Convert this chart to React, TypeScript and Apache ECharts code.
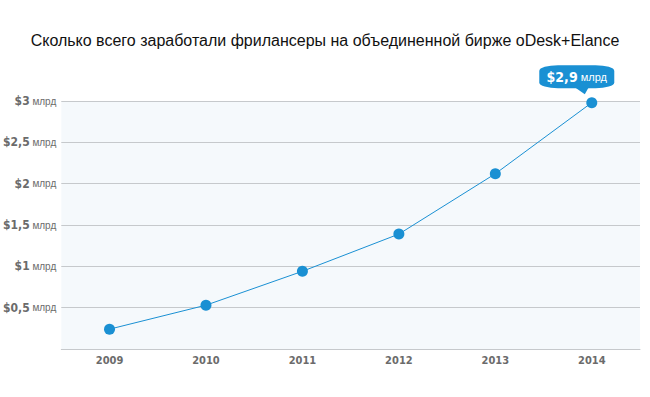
import React, { useEffect, useRef } from "react";
import * as echarts from "echarts";

const TITLE = "Сколько всего заработали фриланcеры на объединенной бирже oDesk+Elance";
const years = ["2009", "2010", "2011", "2012", "2013", "2014"];
const earnings = [0.24, 0.53, 0.94, 1.39, 2.12, 2.98];
const yTicks = [0, 0.5, 1, 1.5, 2, 2.5, 3];
const unit = "млрд";
const calloutValue = "$2,9";

const BLUE = "#1a90d3";
const NARROW = "'DejaVu Sans Condensed', 'Liberation Sans Narrow', sans-serif";
const REG = "'Liberation Sans', Arial, sans-serif";

export default function App() {
  const ref = useRef<HTMLDivElement>(null);
  useEffect(() => {
    if (!ref.current) return;
    const chart = echarts.init(ref.current, null, { renderer: "svg" });
    const lastIdx = years.length - 1;
    chart.setOption({
      animation: false,
      backgroundColor: "#ffffff",
      title: {
        text: TITLE,
        left: "center",
        top: 27,
        textStyle: {
          fontFamily: REG,
          fontSize: 16,
          fontWeight: "normal",
          color: "#111111",
        },
      },
      grid: {
        left: 60,
        right: 10,
        top: 101,
        bottom: 48,
        show: true,
        backgroundColor: "#f5f9fc",
        borderWidth: 0,
      },
      xAxis: {
        type: "category",
        data: years,
        axisTick: { show: false },
        axisLine: { show: true, lineStyle: { color: "#c6c9cc", width: 1 } },
        axisLabel: {
          margin: 6,
          color: "#6b6b6b",
          fontFamily: NARROW,
          fontWeight: "bold",
          fontSize: 11,
        },
      },
      yAxis: {
        type: "value",
        min: yTicks[0],
        max: yTicks[yTicks.length - 1],
        interval: 0.5,
        axisLine: { show: false },
        axisTick: { show: false },
        splitLine: { show: true, lineStyle: { color: "#c6c9cc", width: 1 } },
        axisLabel: {
          margin: 5,
          formatter: (v: number) =>
            v === 0 ? "" : `{a|$${String(v).replace(".", ",")}}{b| ${unit}}`,
          rich: {
            a: {
              color: "#6b6b6b",
              fontFamily: NARROW,
              fontWeight: "bold",
              fontSize: 12,
            },
            b: {
              color: "#6b6b6b",
              fontFamily: REG,
              fontSize: 10,
            },
          },
        },
      },
      series: [
        {
          type: "line",
          data: earnings,
          symbol: "circle",
          symbolSize: 11,
          showAllSymbol: true,
          lineStyle: { color: BLUE, width: 1 },
          itemStyle: { color: BLUE },
          z: 3,
          markPoint: {
            silent: true,
            data: [
              {
                coord: [lastIdx, earnings[lastIdx]],
                symbol: "roundRect",
                symbolSize: [75, 23],
                symbolOffset: [-15, -26],
                itemStyle: { color: BLUE },
                label: {
                  show: true,
                  position: "inside",
                  formatter: `{a|${calloutValue}}{b| ${unit}}`,
                  rich: {
                    a: {
                      color: "#ffffff",
                      fontFamily: NARROW,
                      fontWeight: "bold",
                      fontSize: 14,
                    },
                    b: {
                      color: "#ffffff",
                      fontFamily: REG,
                      fontSize: 11,
                    },
                  },
                },
              },
              {
                coord: [lastIdx, earnings[lastIdx]],
                symbol: "path://M0 0 L14 0 L10 7 Z",
                symbolSize: [14, 7],
                symbolOffset: [-10, -12],
                itemStyle: { color: BLUE },
                label: { show: false },
              },
            ],
          },
        },
      ],
    });
    return () => chart.dispose();
  }, []);
  return (
    <div
      ref={ref}
      style={{ position: "fixed", left: 0, top: 0, width: 650, height: 397 }}
    />
  );
}
